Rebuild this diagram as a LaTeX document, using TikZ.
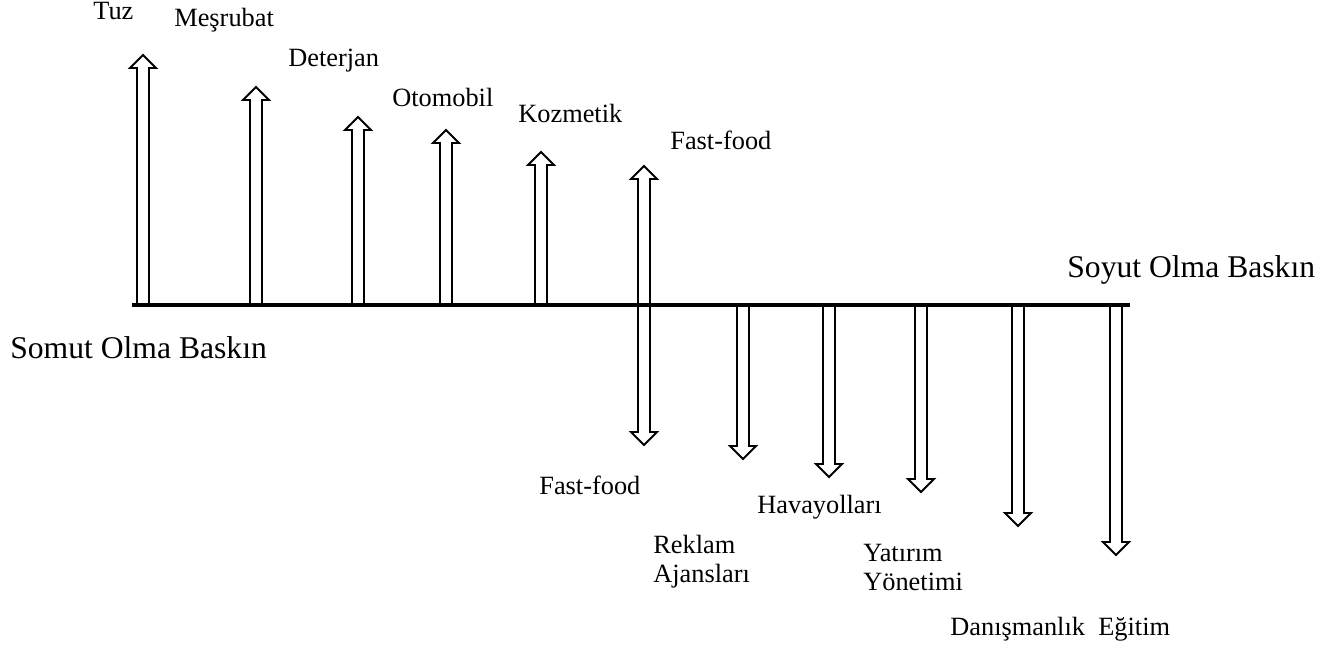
\documentclass[tikz,border=0pt]{standalone}
\usepackage{fontspec}
\setmainfont{Liberation Serif}
\usetikzlibrary{positioning}

\begin{document}
\begin{tikzpicture}[x=0.02cm, y=-0.02cm,
lbl/.style={font=\fontsize{15}{16.5}\selectfont, inner sep=0pt, anchor=base west, align=left},
biglbl/.style={font=\fontsize{18}{21}\selectfont, inner sep=0pt, anchor=base west},
blockarr/.style={draw, line width=1.1pt, fill=white, line join=miter},
axisline/.style={line width=2.3pt}
]
\useasboundingbox (0,0) rectangle (1339,655);

% Up arrows (x / tip)
\foreach \x/\t in {143/55, 256/87, 358/117, 446/130, 541/152}{
  \draw[blockarr] ({\x-6},305) -- ({\x-6},{\t+13}) -- ({\x-13},{\t+13}) -- (\x,\t)
    -- ({\x+13},{\t+13}) -- ({\x+6},{\t+13}) -- ({\x+6},305) -- cycle;
}

% Down arrows (x / tip)
\foreach \x/\t in {743/459, 829/477, 921/492, 1018/526, 1116/555}{
  \draw[blockarr] ({\x-6},305) -- ({\x-6},{\t-13}) -- ({\x-13},{\t-13}) -- (\x,\t)
    -- ({\x+13},{\t-13}) -- ({\x+6},{\t-13}) -- ({\x+6},305) -- cycle;
}

% Double arrow
\draw[blockarr] (638,179) -- (631,179) -- (644,166) -- (657,179) -- (650,179)
  -- (650,432) -- (657,432) -- (644,445) -- (631,432) -- (638,432) -- cycle;

% Axis
\coordinate (axL) at (132,305);
\coordinate (axR) at (1130,305);
\draw[axisline] (axL) -- (axR);

% Top labels
\node[lbl] (tuz) at (93,20) {Tuz};
\node[lbl] (mesrubat) at (174,27) {Meşrubat};
\node[lbl] (deterjan) at (288,67) {Deterjan};
\node[lbl] (otomobil) at (392,107) {Otomobil};
\node[lbl] (kozmetik) at (518,123) {Kozmetik};
\node[lbl] (fastup) at (670,150) {Fast-food};

% Axis ends
\node[biglbl] (soyut) at (1067,277) {Soyut Olma Baskın};
\node[biglbl] (somut) at (10,358) {Somut Olma Baskın};

% Bottom labels (two-line ones sit on their last line)
\node[lbl] (fastdown) at (539,494) {Fast-food};
\node[lbl] (reklam) at (653,582) {Reklam\\Ajansları};
\node[lbl] (havayollari) at (757,513) {Havayolları};
\node[lbl] (yatirim) at (863,590) {Yatırım\\Yönetimi};
\node[lbl] (danisman) at (950,635) {Danışmanlık};
\node[lbl] (egitim) at (1098,635) {Eğitim};
\end{tikzpicture}
\end{document}
